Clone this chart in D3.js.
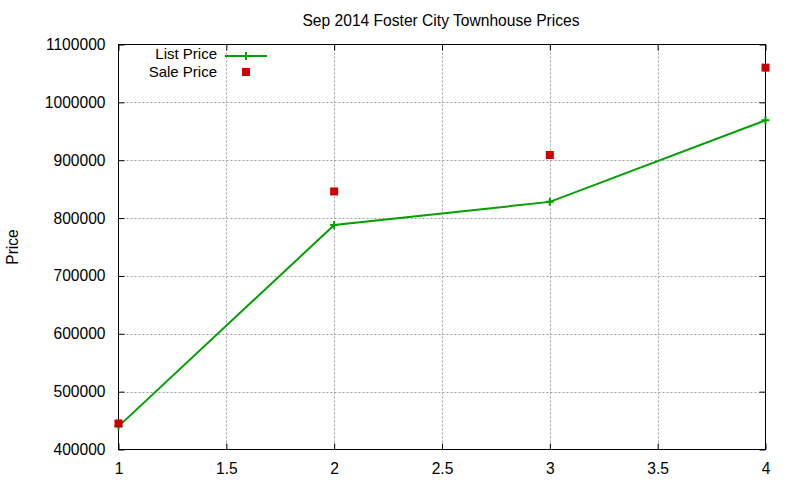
<!DOCTYPE html>
<html>
<head>
<meta charset="utf-8">
<script src="https://cdn.jsdelivr.net/npm/d3@7"></script>
<style>
    body { margin: 0; background: #fff; }
    text { font-family: "Liberation Sans", Arial, sans-serif; font-size: 15.6px; fill: #000; }
</style>
</head>
<body>
<div id="chart"></div>
<script>
// chart data
const months = [1, 2, 3, 4];
const listPrice = [440000, 788000, 828000, 969000];
const salePrice = [445000, 846000, 909000, 1060000];
const xTicks = [1, 1.5, 2, 2.5, 3, 3.5, 4];
const yTicks = [400000, 500000, 600000, 700000, 800000, 900000, 1000000, 1100000];
const title = "Sep 2014 Foster City Townhouse Prices";

const width = 800, height = 480;
const margin = { left: 118.5, right: 34.5, top: 44.5, bottom: 30.5 };

const green = "#00a000";
const red = "#cc0000";

const svg = d3.select("#chart")
    .append("svg")
    .attr("width", width)
    .attr("height", height);

const x = d3.scaleLinear().domain([1, 4]).range([margin.left, width - margin.right]);
const y = d3.scaleLinear().domain([400000, 1100000]).range([height - margin.bottom, margin.top]);

// grid
const grid = svg.append("g").attr("stroke", "#a0a0a0").attr("stroke-dasharray", "2,2").attr("stroke-width", 1);
xTicks.slice(1, -1).forEach(t => {
    grid.append("line")
        .attr("x1", Math.round(x(t)) + 0.5).attr("x2", Math.round(x(t)) + 0.5)
        .attr("y1", y.range()[1]).attr("y2", y.range()[0]);
});
yTicks.slice(1, -1).forEach(t => {
    grid.append("line")
        .attr("x1", x.range()[0]).attr("x2", x.range()[1])
        .attr("y1", Math.round(y(t)) + 0.5).attr("y2", Math.round(y(t)) + 0.5);
});

// axes, ticks inward and mirrored (gnuplot style)
const tickLen = 6;
const fmt = d3.format("d");
svg.append("g")
    .attr("transform", `translate(${margin.left},0)`)
    .call(d3.axisLeft(y).tickValues(yTicks).tickFormat(fmt).tickSizeInner(-tickLen).tickSizeOuter(0).tickPadding(13));
svg.append("g")
    .attr("transform", `translate(${width - margin.right},0)`)
    .call(d3.axisRight(y).tickValues(yTicks).tickFormat("").tickSizeInner(-tickLen).tickSizeOuter(0));
svg.append("g")
    .attr("transform", `translate(0,${height - margin.bottom})`)
    .call(d3.axisBottom(x).tickValues(xTicks).tickFormat(d3.format("")).tickSizeInner(-tickLen).tickSizeOuter(0).tickPadding(13));
svg.append("g")
    .attr("transform", `translate(0,${margin.top})`)
    .call(d3.axisTop(x).tickValues(xTicks).tickFormat("").tickSizeInner(-tickLen).tickSizeOuter(0));

svg.selectAll(".domain").remove();
svg.selectAll(".tick line").attr("stroke", "#000");
svg.selectAll(".tick text").style("font-family", "Liberation Sans, Arial, sans-serif").style("font-size", "15.6px");

// border
svg.append("rect")
    .attr("x", x.range()[0]).attr("y", y.range()[1])
    .attr("width", x.range()[1] - x.range()[0])
    .attr("height", y.range()[0] - y.range()[1])
    .attr("fill", "none").attr("stroke", "#000").attr("stroke-width", 1);

// titles
svg.append("text")
    .attr("x", 441).attr("y", 26)
    .attr("text-anchor", "middle")
    .text(title);
svg.append("text")
    .attr("transform", "translate(18,247) rotate(-90)")
    .attr("text-anchor", "middle")
    .text("Price");

// list price line
const pts = months.map((m, i) => [x(m), y(listPrice[i])]);
svg.append("path")
    .attr("d", d3.line()(pts))
    .attr("fill", "none").attr("stroke", green).attr("stroke-width", 2);

const cross = (g, cx, cy) => {
    g.append("path")
        .attr("d", `M${cx - 4},${cy}H${cx + 4}M${cx},${cy - 4}V${cy + 4}`)
        .attr("stroke", green).attr("stroke-width", 2).attr("fill", "none");
};
const marks = svg.append("g");
pts.forEach(p => cross(marks, p[0], p[1]));

// sale price points
svg.append("g")
    .selectAll("rect")
    .data(months)
    .join("rect")
    .attr("x", (d, i) => x(d) - 4)
    .attr("y", (d, i) => y(salePrice[i]) - 4)
    .attr("width", 8).attr("height", 8)
    .attr("fill", red);

// legend
const legend = svg.append("g");
legend.append("text").attr("x", 217).attr("y", 59).attr("text-anchor", "end").style("font-size", "15px").text("List Price");
legend.append("text").attr("x", 217).attr("y", 76.5).attr("text-anchor", "end").style("font-size", "15px").text("Sale Price");
legend.append("line")
    .attr("x1", 225).attr("x2", 267).attr("y1", 56).attr("y2", 56)
    .attr("stroke", green).attr("stroke-width", 2);
cross(legend, 246, 56);
legend.append("rect").attr("x", 242).attr("y", 68).attr("width", 8).attr("height", 8).attr("fill", red);
</script>
</body>
</html>
